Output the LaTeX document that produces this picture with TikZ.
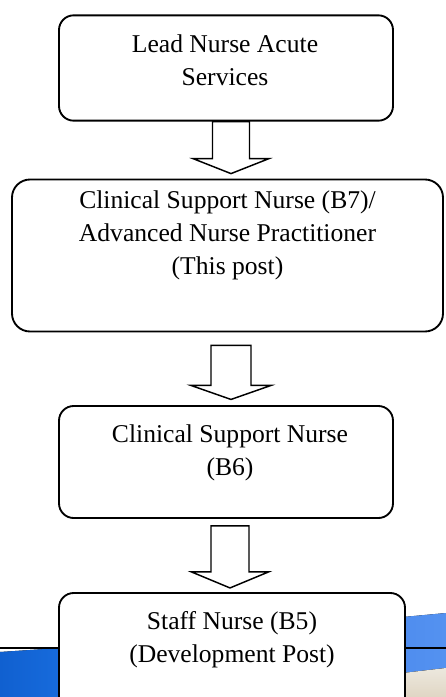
\documentclass[tikz,border=0pt]{standalone}
\usepackage{fontspec}
\setmainfont{Liberation Serif}
\usetikzlibrary{calc}
\tikzset{
  box/.style={draw=black, line width=1.4pt, rounded corners=11pt, fill=white, inner sep=0pt},
  boxtext/.style={align=center, anchor=north, inner sep=0pt, font=\fontsize{19.2pt}{24.75pt}\selectfont},
  blockarr/.style={draw=black, line width=1.1pt, fill=white, line join=miter},
  rule/.style={draw=black, line width=1.2pt},
}
% #1 top-centre coordinate, #2 shaft half width, #3 shaft length, #4 head half width, #5 head length
\newcommand\BlkArr[5]{%
  \draw[blockarr] ($#1+(-#2,0)$) -- ++(0,#3) -- ++({#2-#4},0) -- ++(#4,#5)
    -- ++(#4,-#5) -- ++({#2-#4},0) -- ++(0,-#3) -- cycle;}
\begin{document}
\begin{tikzpicture}[x=0.75pt,y=-0.75pt]
\useasboundingbox (0,0) rectangle (446,697);
\clip (0,0) rectangle (446,697);
\fill[white] (0,0) rectangle (446,697);
% decorative stripe behind the last box
\fill[left color={rgb,255:red,16;green,96;blue,208}, right color={rgb,255:red,30;green,118;blue,232}]
  (0,652) -- (120,644) -- (120,697) -- (0,697) -- cycle;
\fill[left color={rgb,255:red,74;green,136;blue,238}, right color={rgb,255:red,84;green,146;blue,240}]
  (360,621) -- (446,613) -- (446,668) -- (360,678) -- cycle;
\fill[top color={rgb,255:red,236;green,232;blue,222}, bottom color={rgb,255:red,224;green,214;blue,196}]
  (360,678) -- (446,668) -- (446,697) -- (360,697) -- cycle;
\coordinate (sl) at (0,648);
\coordinate (sr) at (446,648);
\draw[rule] (sl) -- (sr);
% boxes
\node[box, minimum width=250.5pt, minimum height=79pt] (b1) at (226,68) {};
\node[box, rounded corners=13.5pt, minimum width=323.25pt, minimum height=114pt] (b2) at (227.5,255.5) {};
\node[box, minimum width=250.5pt, minimum height=84pt] (b3) at (226,462) {};
\node[box, minimum width=259.5pt, minimum height=102.75pt] (b4) at (232,661.5) {};
% texts
\node[boxtext] (t1) at ($(b1.north)+(-1,20)$) {Lead Nurse Acute\\Services};
\node[boxtext] (t2) at ($(b2.north)+(0,12)$) {Clinical Support Nurse (B7)/\\Advanced Nurse Practitioner\\(This post)};
\node[boxtext] (t3) at ($(b3.north)+(4,19.3)$) {Clinical Support Nurse\\(B6)};
\node[boxtext] (t4) at ($(b4.north)+(0,19.3)$) {Staff Nurse (B5)\\(Development Post)};
% block arrows
\BlkArr{(b1.south)+(5,0)}{18.5}{37}{38}{15}
\BlkArr{(b2.south)+(3.5,13)}{20}{40}{40}{14}
\BlkArr{(b3.south)+(4,7)}{19}{46}{38.5}{16}
\end{tikzpicture}
\end{document}
